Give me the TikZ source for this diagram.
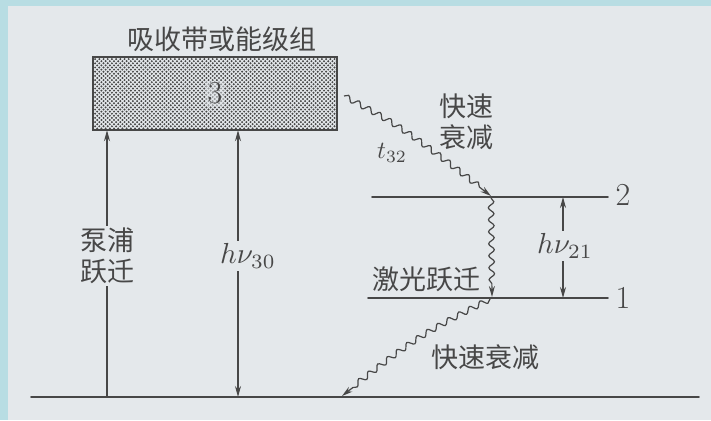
\documentclass[tikz,border=0pt]{standalone}
\usepackage{fontspec}
\newfontfamily\cjk{Noto Sans CJK SC}
\usetikzlibrary{arrows.meta,decorations.pathmorphing}
\definecolor{bgblue}{HTML}{B8DDE3}
\definecolor{paper}{HTML}{E4E8EB}
\definecolor{ink}{HTML}{474747}
\tikzset{
  cn/.style={font=\cjk\fontsize{27}{31}\selectfont, text=ink, align=center, inner sep=2pt},
  mth/.style={font=\normalsize, scale=2.9, text=ink, inner sep=0.8pt},
  num/.style={font=\fontsize{32}{34}\selectfont, text=ink, inner sep=1pt},
  lvl/.style={draw=ink, line width=1.7pt, line cap=round},
  plain/.style={draw=ink, line width=1.2pt},
  arr/.style={draw=ink, line width=1.2pt, -{Stealth[length=11pt,width=6pt]}},
  wavy/.style={draw=ink, line width=1.2pt, decorate,
    decoration={snake, amplitude=2.8pt, segment length=12pt, post length=9pt},
    -{Stealth[length=11pt,width=6pt]}}
}
\begin{document}
\begin{tikzpicture}[x=1pt,y=-1pt]
\fill[bgblue] (0,0) rectangle (711,420);
\fill[paper] (8,6) rectangle (711,420);
% absorption band
\node[cn] (title) at (222,39) {吸收带或能级组};
\node[minimum width=244pt, minimum height=73pt, inner sep=0pt] (box) at (215,93.5) {};
\begin{scope}
  \clip (box.south west) rectangle (box.north east);
  \foreach \j in {0,...,35} {
    \pgfmathsetmacro{\off}{mod(\j,2)*2.1}
    \foreach \i in {0,...,58} {
      \fill[ink] (93+\off+\i*4.2, 57+\j*2.1) circle (1.1pt);
    }
  }
\end{scope}
\draw[draw=ink, line width=1.5pt] (box.south west) rectangle (box.north east);
\node[num, fill=paper, fill opacity=0.5, text opacity=1, inner sep=2pt] (three) at (box.center) {3};
% ground level
\coordinate (g1) at (31,397);
\coordinate (g2) at (699,397);
\draw[lvl] (g1) -- (g2);
% level 2 and 1
\coordinate (l2a) at (372,197);
\coordinate (l2b) at (608,197);
\coordinate (l1a) at (368,298);
\coordinate (l1b) at (608,298);
\draw[lvl] (l2a) -- (l2b);
\draw[lvl] (l1a) -- (l1b);
\node[num] (n2) at (623,195) {2};
\node[num] (n1) at (623,298) {1};
% pump transition
\node[cn] (pump) at (107,256) {泵浦\\跃迁};
\coordinate (pb) at (107,397);
\draw[plain] (pb) -- (pump);
\draw[arr] (pump) -- (pump |- box.south);
% h nu 30
\node[mth] (hv30) at (248,256) {$h\nu_{30}$};
\coordinate (mb) at (238,397);
\draw[arr] (hv30.north -| mb) -- (box.south -| mb);
\draw[arr] (hv30.south -| mb) -- (mb);
% h nu 21
\node[mth] (hv21) at (565,246) {$h\nu_{21}$};
\coordinate (x2) at (563,197);
\coordinate (x1) at (563,298);
\draw[arr] (hv21.north -| x2) -- (x2);
\draw[arr] (hv21.south -| x1) -- (x1);
% fast decay 3 -> 2
\coordinate (w1s) at (344,96);
\coordinate (w1e) at (491,196);
\draw[wavy] (w1s) .. controls (400,126) .. (w1e);
\node[mth, scale=0.85] (t32) at (392,153) {$t_{32}$};
\node[cn] (fd1) at (466,122) {快速\\衰减};
% laser transition 2 -> 1
\coordinate (w2s) at (491,198);
\coordinate (w2e) at (492,297);
\draw[wavy] (w2s) -- (w2e);
\node[cn] (laser) at (426,279) {激光跃迁};
% fast decay 1 -> 0
\coordinate (w3s) at (490,299);
\coordinate (w3e) at (342,396);
\draw[wavy] (w3s) .. controls (420,335) .. (w3e);
\node[cn] (fd2) at (485,357) {快速衰减};
\end{tikzpicture}
\end{document}
